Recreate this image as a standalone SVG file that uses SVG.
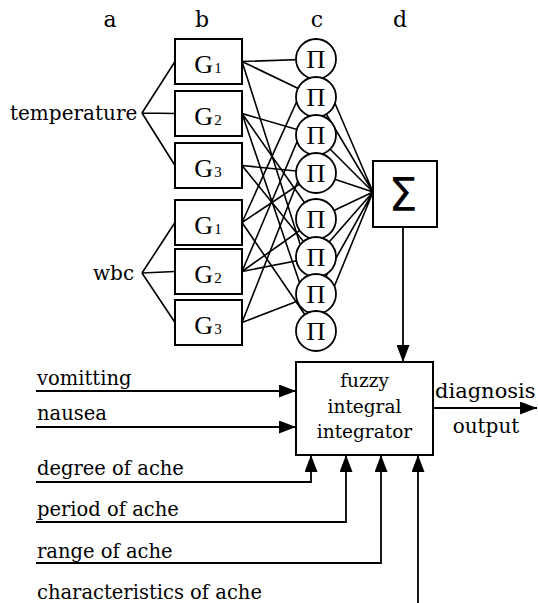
<svg xmlns="http://www.w3.org/2000/svg" width="538" height="603" viewBox="0 0 538 603">
<style>
text{font-family:"DejaVu Serif","Liberation Serif",serif;fill:#000}
.lbl{font-size:19.5px}
.top{font-size:22px;text-anchor:middle}
.g{font-family:"Liberation Serif",serif;font-size:26px;text-anchor:middle}
.sub{font-size:15px}
.pi{font-family:"Liberation Serif",serif;font-size:26px;text-anchor:middle}
.box{fill:#fff;stroke:#000;stroke-width:2}
.circ{fill:#fff;stroke:#000;stroke-width:1.8}
.ln{fill:none;stroke:#000;stroke-width:1.6}
.ar{fill:none;stroke:#000;stroke-width:1.8;marker-end:url(#ah)}
.mid{text-anchor:middle}
</style>
<defs>
<marker id="ah" markerUnits="userSpaceOnUse" markerWidth="17" markerHeight="13" refX="17" refY="6.5" orient="auto">
<path d="M0,0 L17,6.5 L0,13 z" fill="#000"/>
</marker>
</defs>

<g id="header">
<text class="top" x="110" y="27">a</text>
<text class="top" x="202" y="27">b</text>
<text class="top" x="317" y="27">c</text>
<text class="top" x="400" y="27">d</text>
</g>

<g id="connectors">
<!-- inputs to G -->
<path class="ln" d="M142,113 L175,61.5 M142,113 L175,113.5 M142,113 L175,165.5"/>
<path class="ln" d="M142,273 L175,222.5 M142,273 L175,271.5 M142,273 L175,322.5"/>
<!-- temperature G to Pi -->
<path class="ln" d="M242,61.5 L316,59 M242,61.5 L316,97 M242,61.5 L316,294"/>
<path class="ln" d="M242,113.5 L316,135 M242,113.5 L316,219 M242,113.5 L316,331"/>
<path class="ln" d="M242,165.5 L316,173 M242,165.5 L316,257"/>
<!-- wbc G to Pi -->
<path class="ln" d="M242,222.5 L316,59 M242,222.5 L316,173 M242,222.5 L316,331"/>
<path class="ln" d="M242,271.5 L316,97 M242,271.5 L316,219 M242,271.5 L316,257"/>
<path class="ln" d="M242,322.5 L316,135 M242,322.5 L316,294"/>
<!-- Pi to Sigma -->
<path class="ln" d="M316,59 L373,192 M316,97 L373,192 M316,135 L373,192 M316,173 L373,192 M316,219 L373,192 M316,257 L373,192 M316,294 L373,192 M316,331 L373,192"/>
<!-- Sigma to integrator -->
<path class="ar" d="M403,227 L403,362"/>
<!-- inputs to integrator -->
<path class="ar" d="M36,391 L296,391"/>
<path class="ar" d="M36,427 L296,427"/>
<path class="ar" d="M36,482 L311,482 L311,455"/>
<path class="ar" d="M36,522 L346,522 L346,455"/>
<path class="ar" d="M36,563 L381,563 L381,455"/>
<path class="ar" d="M418,603 L418,455"/>
<!-- output -->
<path class="ar" d="M433,408 L537,408"/>
</g>

<g id="temperature"><text class="lbl" x="10" y="120" style="font-size:20px">temperature</text></g>
<g id="wbc"><text class="lbl" x="93" y="280" style="font-size:20px">wbc</text></g>

<g id="G1-temp"><rect class="box" x="175" y="39" width="67" height="45"/><text class="g" x="208" y="73">G<tspan class="sub" dx="1">1</tspan></text></g>
<g id="G2-temp"><rect class="box" x="175" y="91" width="67" height="45"/><text class="g" x="208" y="125">G<tspan class="sub" dx="1">2</tspan></text></g>
<g id="G3-temp"><rect class="box" x="175" y="143" width="67" height="45"/><text class="g" x="208" y="177">G<tspan class="sub" dx="1">3</tspan></text></g>
<g id="G1-wbc"><rect class="box" x="175" y="200" width="67" height="45"/><text class="g" x="208" y="234">G<tspan class="sub" dx="1">1</tspan></text></g>
<g id="G2-wbc"><rect class="box" x="175" y="249" width="67" height="45"/><text class="g" x="208" y="283">G<tspan class="sub" dx="1">2</tspan></text></g>
<g id="G3-wbc"><rect class="box" x="175" y="300" width="67" height="45"/><text class="g" x="208" y="334">G<tspan class="sub" dx="1">3</tspan></text></g>

<g id="pi1"><circle class="circ" cx="316" cy="59" r="20"/><text class="pi" x="316" y="68">Π</text></g>
<g id="pi2"><circle class="circ" cx="316" cy="97" r="20"/><text class="pi" x="316" y="106">Π</text></g>
<g id="pi3"><circle class="circ" cx="316" cy="135" r="20"/><text class="pi" x="316" y="144">Π</text></g>
<g id="pi4"><circle class="circ" cx="316" cy="173" r="20"/><text class="pi" x="316" y="182">Π</text></g>
<g id="pi5"><circle class="circ" cx="316" cy="219" r="20"/><text class="pi" x="316" y="228">Π</text></g>
<g id="pi6"><circle class="circ" cx="316" cy="257" r="20"/><text class="pi" x="316" y="266">Π</text></g>
<g id="pi7"><circle class="circ" cx="316" cy="294" r="20"/><text class="pi" x="316" y="303">Π</text></g>
<g id="pi8"><circle class="circ" cx="316" cy="331" r="20"/><text class="pi" x="316" y="340">Π</text></g>

<g id="sigma"><rect class="box" x="373" y="161" width="64" height="66"/><text x="403" y="211" style="font-family:'DejaVu Sans','Liberation Sans',sans-serif;font-size:46px;text-anchor:middle">Σ</text></g>

<g id="integrator"><rect class="box" x="296" y="362" width="137" height="93"/>
<text class="mid" x="364.5" y="387" style="font-size:18.5px">fuzzy</text>
<text class="mid" x="364.5" y="413" style="font-size:18.5px">integral</text>
<text class="mid" x="364.5" y="438" style="font-size:18.5px">integrator</text>
</g>

<g id="output"><text x="435" y="398" style="font-size:21px">diagnosis</text><text class="mid" x="486" y="433" style="font-size:20px">output</text></g>

<g id="inputs">
<text class="lbl" x="37" y="385">vomitting</text>
<text class="lbl" x="37" y="420">nausea</text>
<text class="lbl" x="37" y="475">degree of ache</text>
<text class="lbl" x="37" y="516">period of ache</text>
<text class="lbl" x="37" y="558">range of ache</text>
<text class="lbl" x="37" y="599">characteristics of ache</text>
</g>
</svg>
